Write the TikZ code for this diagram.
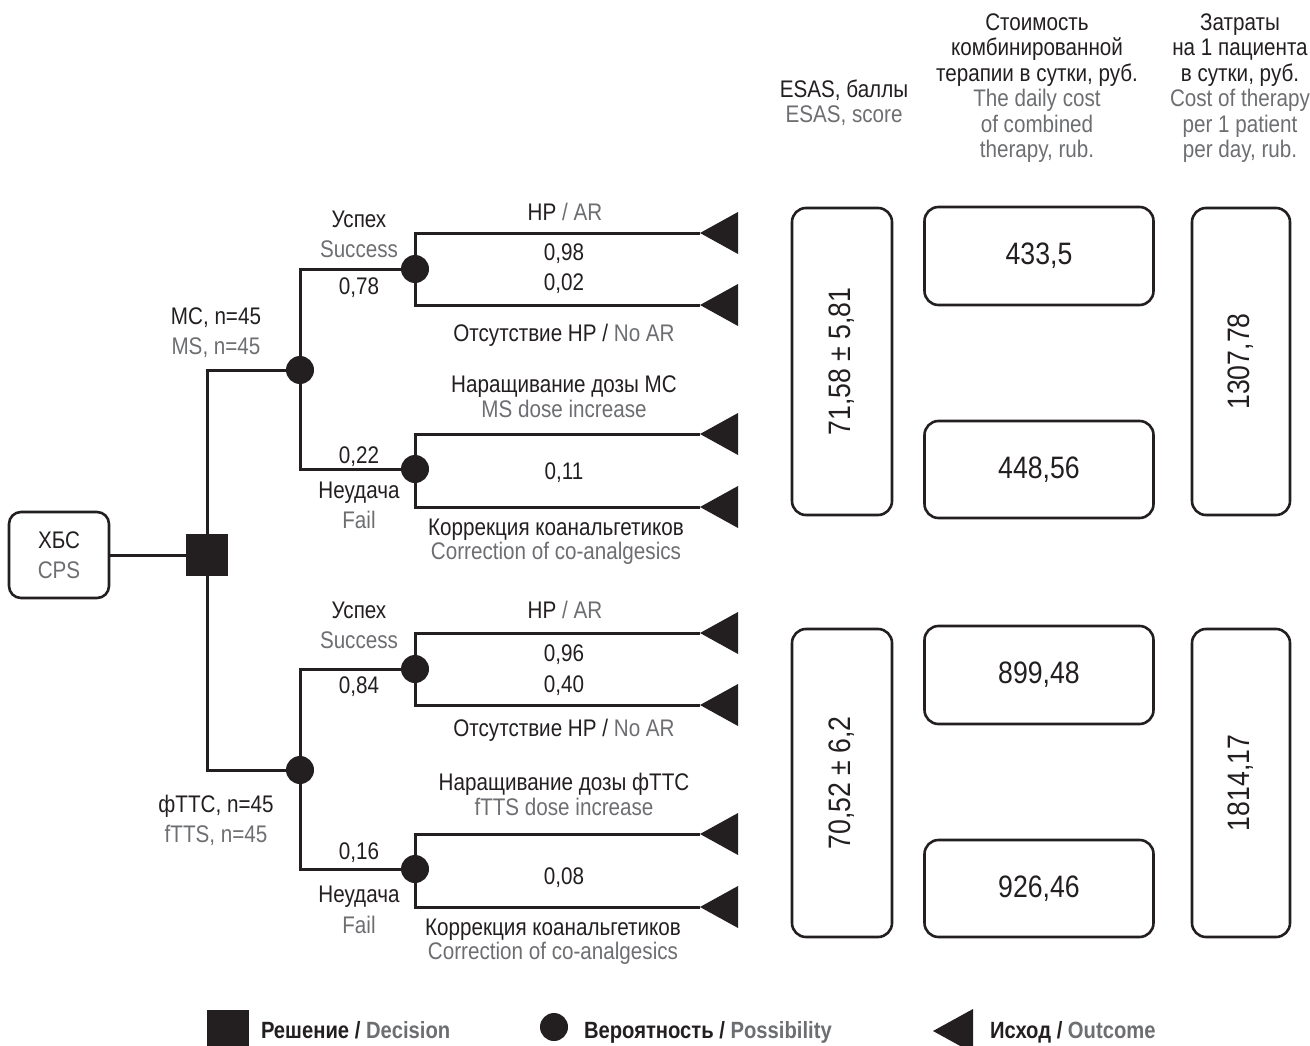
\documentclass[tikz,border=0pt]{standalone}
\usepackage{fontspec}
\setmainfont{Liberation Sans}[FakeStretch=0.86]
\definecolor{ink}{HTML}{231F20}
\definecolor{tg}{HTML}{6D6E71}
\begin{document}
\begin{tikzpicture}[x=1pt,y=-1pt,
  every node/.style={inner sep=0pt, outer sep=0pt, text=ink},
  lbl/.style={anchor=base, font=\fontsize{24}{24}\selectfont},
  glbl/.style={lbl, text=tg},
  legtxt/.style={anchor=base west, font=\bfseries\fontsize{23.5}{23.5}\selectfont},
  link/.style={draw=ink, line width=3pt},
  prob/.style={circle, fill=ink, minimum size=28pt},
  decn/.style={rectangle, fill=ink, minimum size=42pt},
  valbox/.style={draw=ink, line width=2.6pt, rounded corners=14pt, font=\fontsize{31}{31}\selectfont},
  startbox/.style={draw=ink, line width=2.6pt, rounded corners=12pt, minimum width=100pt, minimum height=86pt}
]
\useasboundingbox (0,0) rectangle (1310,1046);
\clip (0,0) rectangle (1310,1046);

% ---------- tree nodes ----------
\node[startbox] (cps) at (59,555) {};
\node[lbl] (cpsru) at (59,548) {ХБС};
\node[glbl] (cpsen) at (59,578) {CPS};

\node[decn] (dec) at (207,555) {};
\node[prob] (c1) at (300,370) {};
\node[prob] (c2) at (300,770) {};
\node[prob] (c11) at (415,269) {};
\node[prob] (c12) at (415,469) {};
\node[prob] (c21) at (415,669) {};
\node[prob] (c22) at (415,869) {};

% outcome tips
\coordinate (o111) at (700,233);
\coordinate (o112) at (700,305);
\coordinate (o121) at (700,434);
\coordinate (o122) at (700,507);
\coordinate (o211) at (700,633);
\coordinate (o212) at (700,705);
\coordinate (o221) at (700,834);
\coordinate (o222) at (700,907);
\foreach \o in {o111,o112,o121,o122,o211,o212,o221,o222}{
  \fill[ink] (\o) -- ++(38,-21) -- ++(0,42) -- cycle;
}

% ---------- connectors ----------
\draw[link] (cps.east |- dec.west) -- (dec.west);
\draw[link] (dec) |- (c1);
\draw[link] (dec) |- (c2);
\draw[link] (c1) |- (c11);
\draw[link] (c1) |- (c12);
\draw[link] (c2) |- (c21);
\draw[link] (c2) |- (c22);
\draw[link] (c11) |- (o111);
\draw[link] (c11) |- (o112);
\draw[link] (c12) |- (o121);
\draw[link] (c12) |- (o122);
\draw[link] (c21) |- (o211);
\draw[link] (c21) |- (o212);
\draw[link] (c22) |- (o221);
\draw[link] (c22) |- (o222);

% ---------- MS branch labels ----------
\node[lbl] (ms1) at (216,324) {МС, n=45};
\node[glbl] (ms2) at (216,354) {MS, n=45};
\node[lbl] (s1) at (359,227) {Успех};
\node[glbl] (s2) at (359,257) {Success};
\node[lbl] (p078) at (359,294) {0,78};
\node[lbl] (p022) at (359,463) {0,22};
\node[lbl] (f1) at (359,498) {Неудача};
\node[glbl] (f2) at (359,528) {Fail};
\node[lbl] (ar1) at (565,221) {НР \textcolor{tg}{/ AR}};
\node[lbl] (p098) at (564,260) {0,98};
\node[lbl] (p002) at (564,290) {0,02};
\node[lbl] (nar1) at (564,341) {Отсутствие НР / \textcolor{tg}{No AR}};
\node[lbl] (inc1) at (564,392) {Наращивание дозы МС};
\node[glbl] (inc1en) at (564,417) {MS dose increase};
\node[lbl] (p011) at (564,479) {0,11};
\node[lbl] (cor1) at (556,535) {Коррекция коанальгетиков};
\node[glbl] (cor1en) at (556,559) {Correction of co-analgesics};

% ---------- fTTS branch labels ----------
\node[lbl] (ft1) at (216,812) {фТТС, n=45};
\node[glbl] (ft2) at (216,842) {fTTS, n=45};
\node[lbl] (s3) at (359,618) {Успех};
\node[glbl] (s4) at (359,648) {Success};
\node[lbl] (p084) at (359,693) {0,84};
\node[lbl] (p016) at (359,859) {0,16};
\node[lbl] (f3) at (359,902) {Неудача};
\node[glbl] (f4) at (359,933) {Fail};
\node[lbl] (ar2) at (565,618) {НР \textcolor{tg}{/ AR}};
\node[lbl] (p096) at (564,661) {0,96};
\node[lbl] (p040) at (564,692) {0,40};
\node[lbl] (nar2) at (564,736) {Отсутствие НР / \textcolor{tg}{No AR}};
\node[lbl] (inc2) at (564,790) {Наращивание дозы фТТС};
\node[glbl] (inc2en) at (564,815) {fTTS dose increase};
\node[lbl] (p008) at (564,884) {0,08};
\node[lbl] (cor2) at (553,935) {Коррекция коанальгетиков};
\node[glbl] (cor2en) at (553,959) {Correction of co-analgesics};

% ---------- column headers ----------
\node[lbl] (h1a) at (844,98) {ESAS, баллы};
\node[glbl] (h1b) at (844,123) {ESAS, score};

\node[lbl] (h2a) at (1037,30.5) {Стоимость};
\node[lbl] (h2b) at (1037,56) {комбинированной};
\node[lbl] (h2c) at (1037,81.5) {терапии в сутки, руб.};
\node[glbl] (h2d) at (1037,107) {The daily cost};
\node[glbl] (h2e) at (1037,132.5) {of combined};
\node[glbl] (h2f) at (1037,158) {therapy, rub.};

\node[lbl] (h3a) at (1240,30.5) {Затраты};
\node[lbl] (h3b) at (1240,56) {на 1 пациента};
\node[lbl] (h3c) at (1240,81.5) {в сутки, руб.};
\node[glbl] (h3d) at (1240,107) {Cost of therapy};
\node[glbl] (h3e) at (1240,132.5) {per 1 patient};
\node[glbl] (h3f) at (1240,158) {per day, rub.};

% ---------- value boxes ----------
\node[valbox, rotate=90, minimum width=307pt, minimum height=100pt] (esas1) at (842,361.5) {71,58 ± 5,81};
\node[valbox, minimum width=229pt, minimum height=98pt] (cost1) at (1039,256) {433,5};
\node[valbox, minimum width=229pt, minimum height=97pt] (cost2) at (1039,469.5) {448,56};
\node[valbox, rotate=90, minimum width=307pt, minimum height=98pt] (pat1) at (1241,361.5) {1307,78};

\node[valbox, rotate=90, minimum width=308pt, minimum height=100pt] (esas2) at (842,783) {70,52 ± 6,2};
\node[valbox, minimum width=229pt, minimum height=98pt] (cost3) at (1039,675) {899,48};
\node[valbox, minimum width=229pt, minimum height=97pt] (cost4) at (1039,888.5) {926,46};
\node[valbox, rotate=90, minimum width=308pt, minimum height=98pt] (pat2) at (1241,783) {1814,17};

% ---------- legend ----------
\node[decn] (legdec) at (228,1031) {};
\node[legtxt] (legdect) at (261,1038) {Решение / \textcolor{tg}{Decision}};
\node[prob] (legprob) at (554,1027) {};
\node[legtxt] (legprobt) at (584,1038) {Вероятность / \textcolor{tg}{Possibility}};
\coordinate (legout) at (933,1031);
\fill[ink] (legout) -- ++(40,-22) -- ++(0,44) -- cycle;
\node[legtxt] (legoutt) at (990,1038) {Исход / \textcolor{tg}{Outcome}};
\end{tikzpicture}
\end{document}
